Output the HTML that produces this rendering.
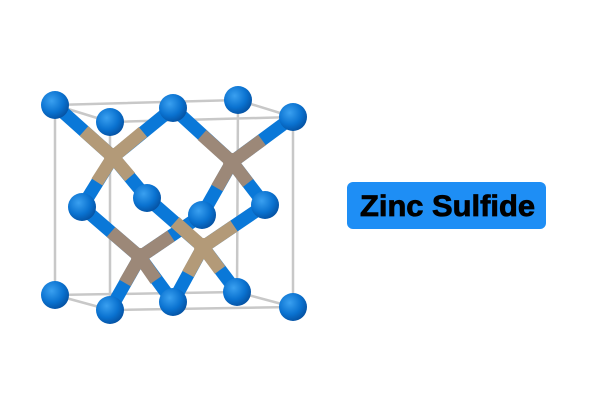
<!DOCTYPE html>
<html><head><meta charset="utf-8"><style>
html,body{margin:0;padding:0;background:#fff;width:600px;height:413px;overflow:hidden}
</style></head><body>
<svg width="600" height="413" viewBox="0 0 600 413" xmlns="http://www.w3.org/2000/svg">
<defs>
<radialGradient id="s" cx="0.38" cy="0.35" r="0.7">
<stop offset="0" stop-color="#3aa0f0"/><stop offset="0.6" stop-color="#0a72d0"/><stop offset="1" stop-color="#0550a0"/>
</radialGradient>
</defs>
<g stroke="#c8c8c8" stroke-width="2.5" fill="none">
<polygon points="55,105 238,100 237,292 55,295"/>
<polygon points="110,122 293,117 293,307 110,310"/>
<line x1="55" y1="105" x2="110" y2="122"/><line x1="238" y1="100" x2="293" y2="117"/>
<line x1="237" y1="292" x2="293" y2="307"/><line x1="55" y1="295" x2="110" y2="310"/>
</g>
<g stroke-width="13" stroke-linecap="butt">
<g stroke="#0a78d8">
<line x1="55" y1="105" x2="113" y2="157"/><line x1="173" y1="108" x2="113" y2="157"/>
<line x1="82" y1="207" x2="113" y2="157"/><line x1="147" y1="198" x2="113" y2="157"/>
<line x1="293" y1="117" x2="232" y2="162"/><line x1="173" y1="108" x2="232" y2="162"/>
<line x1="265" y1="205" x2="232" y2="162"/><line x1="202" y1="215" x2="232" y2="162"/>
<line x1="82" y1="207" x2="140" y2="257"/><line x1="202" y1="215" x2="140" y2="257"/>
<line x1="110" y1="310" x2="140" y2="257"/><line x1="173" y1="302" x2="140" y2="257"/>
<line x1="147" y1="198" x2="203" y2="247"/><line x1="265" y1="205" x2="203" y2="247"/>
<line x1="173" y1="302" x2="203" y2="247"/><line x1="237" y1="292" x2="203" y2="247"/>
</g>
<g stroke="#b39a78">
<line x1="84" y1="131" x2="113" y2="157"/><line x1="143" y1="132" x2="113" y2="157"/>
<line x1="97" y1="182" x2="113" y2="157"/><line x1="130" y1="177" x2="113" y2="157"/>
</g>
<g stroke="#9c8878">
<line x1="262" y1="140" x2="232" y2="162"/><line x1="202" y1="135" x2="232" y2="162"/>
<line x1="248" y1="183" x2="232" y2="162"/><line x1="217" y1="188" x2="232" y2="162"/>
<line x1="111" y1="232" x2="140" y2="257"/><line x1="171" y1="236" x2="140" y2="257"/>
<line x1="125" y1="283" x2="140" y2="257"/><line x1="156" y1="280" x2="140" y2="257"/>
</g>
<g stroke="#b39a78">
<line x1="175" y1="222" x2="203" y2="247"/><line x1="234" y1="226" x2="203" y2="247"/>
<line x1="188" y1="274" x2="203" y2="247"/><line x1="220" y1="270" x2="203" y2="247"/>
</g>
</g>
<circle cx="113" cy="157" r="9" fill="#b39a78"/>
<circle cx="232" cy="162" r="9" fill="#9c8878"/>
<circle cx="140" cy="257" r="9" fill="#9c8878"/>
<circle cx="203" cy="247" r="9" fill="#b39a78"/>
<g fill="url(#s)">
<circle cx="55" cy="105" r="14"/><circle cx="110" cy="122" r="14"/><circle cx="173" cy="108" r="14"/>
<circle cx="238" cy="100" r="14"/><circle cx="293" cy="117" r="14"/>
<circle cx="82" cy="207" r="14"/><circle cx="147" cy="198" r="14"/><circle cx="202" cy="215" r="14"/>
<circle cx="265" cy="205" r="14"/>
<circle cx="55" cy="295" r="14"/><circle cx="110" cy="310" r="14"/><circle cx="173" cy="302" r="14"/>
<circle cx="237" cy="292" r="14"/><circle cx="293" cy="307" r="14"/>
</g>
<rect x="347" y="182" width="199" height="47" rx="6" fill="#1e8ef5"/>
<text x="360" y="216" font-family="Liberation Sans, sans-serif" font-weight="bold" font-size="30" fill="#000" stroke="#000" stroke-width="0.8" textLength="175" lengthAdjust="spacingAndGlyphs">Zinc Sulfide</text>
</svg>
</body></html>
